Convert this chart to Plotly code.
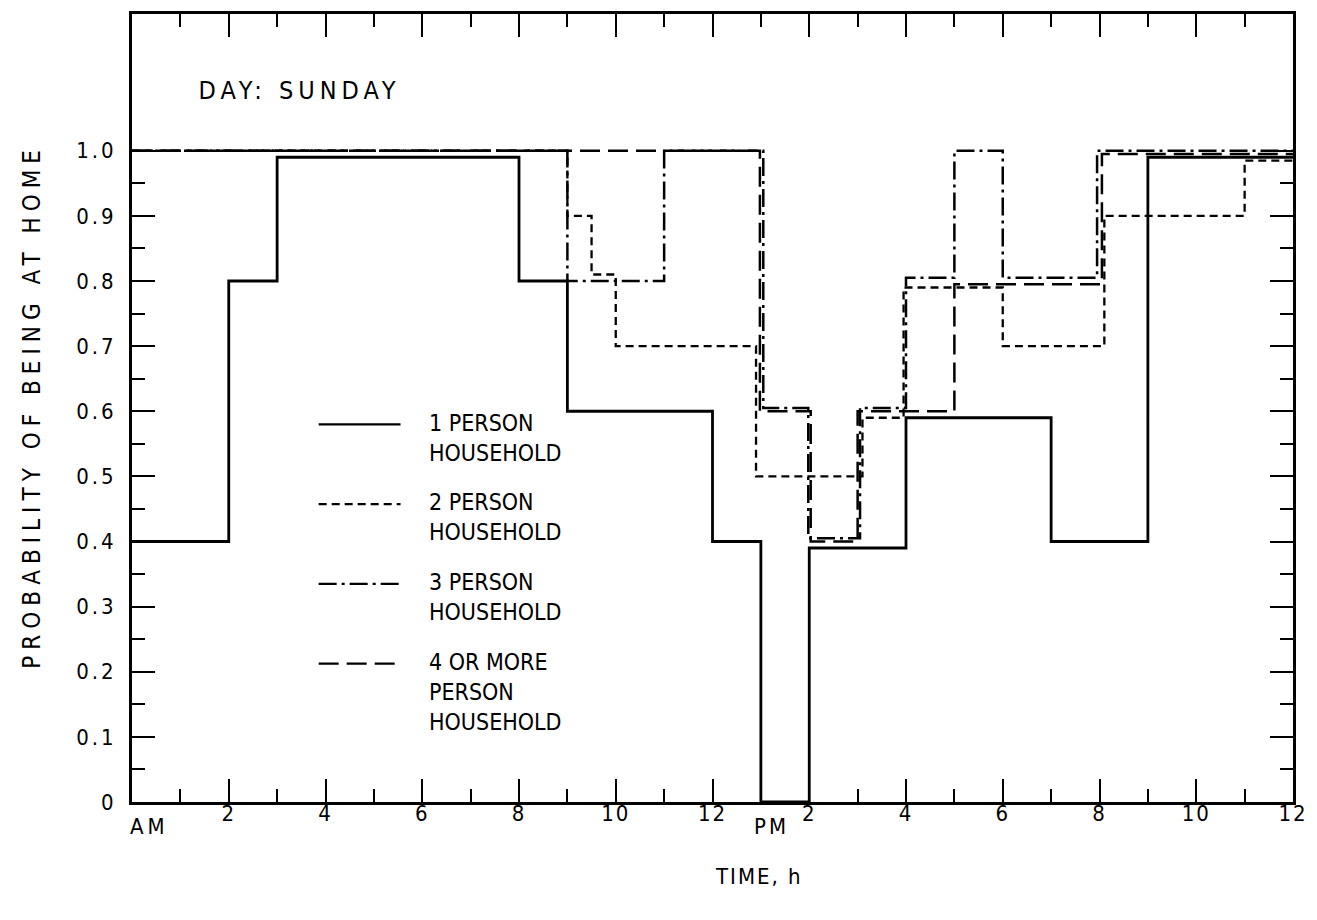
import plotly.graph_objects as go

# ---- data: step start hours (0 = midnight AM, 24 = midnight) and probabilities ----
hours_1 = [0, 2, 3, 8, 9, 12, 13, 14, 16, 19, 21, 24]
prob_1 = [0.40, 0.80, 0.99, 0.80, 0.60, 0.40, 0.0, 0.39, 0.59, 0.40, 0.99, 0.99]

hours_2 = [0, 9, 9.5, 10, 12.9, 15.1, 15.95, 18, 20.1, 23, 24]
prob_2 = [1.0, 0.90, 0.81, 0.70, 0.50, 0.59, 0.79, 0.70, 0.90, 0.985, 0.985]

hours_3 = [0, 9, 11, 13.05, 13.98, 15.05, 16, 17, 18, 19.95, 24]
prob_3 = [1.0, 0.80, 1.0, 0.605, 0.405, 0.605, 0.805, 1.0, 0.805, 1.0, 1.0]

hours_4 = [0, 12.98, 14.03, 15.0, 17, 20.05, 24]
prob_4 = [1.0, 0.60, 0.40, 0.60, 0.795, 0.995, 0.995]

series_names = ["1 PERSON HOUSEHOLD", "2 PERSON HOUSEHOLD",
                "3 PERSON HOUSEHOLD", "4 OR MORE PERSON HOUSEHOLD"]
legend_labels = ["1 PERSON<br>HOUSEHOLD", "2 PERSON<br>HOUSEHOLD",
                 "3 PERSON<br>HOUSEHOLD", "4 OR MORE<br>PERSON<br>HOUSEHOLD"]

x_tick_vals = [2, 4, 6, 8, 10, 12, 14, 16, 18, 20, 22, 24]
x_tick_text = ["2", "4", "6", "8", "10", "12", "2", "4", "6", "8", "10", "12"]
y_tick_vals = [0, 0.1, 0.2, 0.3, 0.4, 0.5, 0.6, 0.7, 0.8, 0.9, 1.0]
y_tick_text = ["0", "0.1", "0.2", "0.3", "0.4", "0.5", "0.6", "0.7", "0.8", "0.9", "1.0"]
x_minor_vals = [1, 3, 5, 7, 9, 11, 13, 15, 17, 19, 21, 23]
y_minor_vals = [0.05, 0.15, 0.25, 0.35, 0.45, 0.55, 0.65, 0.75, 0.85, 0.95]

# ---- styling ----
FONT = "DejaVu Sans Condensed, Liberation Sans Narrow, DejaVu Sans, sans-serif"
W, H = 1317, 920
ML, MR, MT, MB = 132, 22, 11, 118
PW, PH = W - ML - MR, H - MT - MB


def px_x(x):
    return (x - ML) / PW


def px_y(y):
    return (H - MB - y) / PH


dashes = ["solid", "8px,5px", "18px,5px,3px,5px", "20px,8px"]
widths = [2.8, 2.3, 2.5, 2.5]

fig = go.Figure()
for hrs, pr, name, d, w in zip([hours_1, hours_2, hours_3, hours_4],
                               [prob_1, prob_2, prob_3, prob_4],
                               series_names, dashes, widths):
    fig.add_trace(go.Scatter(x=hrs, y=pr, mode="lines", name=name,
                             line=dict(color="black", width=w, dash=d, shape="hv"),
                             showlegend=False))

# legend built from shapes + text
legend_rows = [423, 503, 583, 663]
for i, (row, lab, d) in enumerate(zip(legend_rows, legend_labels, dashes)):
    fig.add_shape(type="line", xref="paper", yref="paper",
                  x0=px_x(319), x1=px_x(401), y0=px_y(row), y1=px_y(row),
                  line=dict(color="black", width=2.3, dash=d))
    fig.add_annotation(text=lab, xref="paper", yref="paper",
                       x=px_x(428), y=px_y(row - 17), xanchor="left", yanchor="top",
                       align="left", showarrow=False,
                       font=dict(family=FONT, size=23, color="black"))

# index 4..8
fig.add_annotation(text="DAY: SUNDAY", xref="paper", yref="paper",
                   x=px_x(300), y=px_y(88), xanchor="center", yanchor="middle",
                   showarrow=False, font=dict(family=FONT, size=25, color="black"))
fig.add_annotation(text="TIME, h", xref="paper", yref="paper",
                   x=px_x(760), y=px_y(877), xanchor="center", yanchor="middle",
                   showarrow=False, font=dict(family=FONT, size=22, color="black"))
fig.add_annotation(text="AM", xref="paper", yref="paper",
                   x=px_x(150), y=px_y(827), xanchor="center", yanchor="middle",
                   showarrow=False, font=dict(family=FONT, size=22, color="black"))
fig.add_annotation(text="PM", xref="paper", yref="paper",
                   x=px_x(773), y=px_y(827), xanchor="center", yanchor="middle",
                   showarrow=False, font=dict(family=FONT, size=22, color="black"))
fig.add_annotation(text="PROBABILITY OF BEING AT HOME", xref="paper", yref="paper",
                   x=px_x(31), y=px_y(405), xanchor="center", yanchor="middle",
                   textangle=-90, showarrow=False,
                   font=dict(family=FONT, size=24, color="black"))

axis_common = dict(showgrid=False, zeroline=False, showline=True, linecolor="black",
                   linewidth=3, mirror="ticks", ticks="inside", tickcolor="black",
                   tickwidth=2, ticklen=23,
                   tickfont=dict(family=FONT, size=22, color="black"))

fig.update_xaxes(range=[0, 24], tickmode="array", tickvals=x_tick_vals,
                 ticktext=x_tick_text,
                 minor=dict(tickmode="array", tickvals=x_minor_vals, ticks="inside",
                            ticklen=13, tickwidth=2, tickcolor="black"),
                 ticklabelstandoff=-10,
                 **axis_common)
fig.update_yaxes(range=[0, 1.21], tickmode="array", tickvals=y_tick_vals,
                 ticktext=y_tick_text,
                 minor=dict(tickmode="array", tickvals=y_minor_vals, ticks="inside",
                            ticklen=13, tickwidth=2, tickcolor="black"),
                 ticklabelstandoff=8,
                 **axis_common)

fig.update_layout(width=W, height=H, autosize=False,
                  margin=dict(l=ML, r=MR, t=MT, b=MB),
                  paper_bgcolor="white", plot_bgcolor="white",
                  font=dict(family=FONT, color="black"))

post = """
document.body.style.margin = '0';
document.body.style.overflow = 'hidden';
var gd = document.getElementById('{plot_id}');
function sp(sel, v){ gd.querySelectorAll(sel).forEach(function(e){ e.style.letterSpacing = v; }); }
sp('.ytick text', '3px');
sp('.xtick text', '2px');
sp('.annotation[data-index="4"] text', '5px');
sp('.annotation[data-index="5"] text', '2px');
sp('.annotation[data-index="6"] text', '4px');
sp('.annotation[data-index="7"] text', '3px');
sp('.annotation[data-index="8"] text', '6px');
"""

fig.write_html("out.html", post_script=post, config={"displayModeBar": False})
